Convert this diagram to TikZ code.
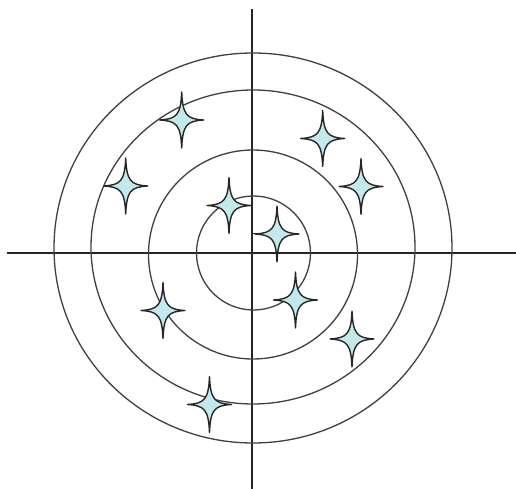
\documentclass[tikz,border=0pt]{standalone}
\begin{document}
\begin{tikzpicture}[x=1pt,y=-1pt,
  axis/.style={draw=black!85,line width=1.4pt},
  ring/.style={draw=black!75,line width=1.3pt},
  star4/.pic={\path[fill=starfill,draw=black!85,line width=1.4pt,line join=round]
     (0,-28) .. controls (1,-5) and (5,-1) .. (22,0)
     .. controls (5,1) and (1,5) .. (0,28)
     .. controls (-1,5) and (-5,1) .. (-22,0)
     .. controls (-5,-1) and (-1,-5) .. cycle;}]
\definecolor{starfill}{RGB}{196,233,237}
\useasboundingbox (0,0) rectangle (516,489);
\fill[white] (0,0) rectangle (516,489);
% axes
\coordinate (L) at (7,253);
\coordinate (R) at (516,253);
\coordinate (T) at (252,9);
\coordinate (B) at (252,489);
\draw[axis] (L) -- (R);
\draw[axis] (T) -- (B);
% rings
\draw[ring] (253,248) ellipse [x radius=199,y radius=195];
\draw[ring] (253,247) ellipse [x radius=162,y radius=157];
\draw[ring] (253,254.5) circle [radius=104.5];
\draw[ring] (253.5,253) circle [radius=57];
% small tick to centre star
\coordinate (tA) at (252,233.3);
\coordinate (tB) at (262,233.3);
\draw[axis,line width=1.2pt] (tA) -- (tB);
% stars
\pic at (181.7,120) {star4};
\pic at (125.7,186) {star4};
\pic at (229,205.5) {star4};
\pic at (277,234) {star4};
\pic at (322.7,138.5) {star4};
\pic at (361,186.5) {star4};
\pic at (163,310.5) {star4};
\pic at (295.5,300) {star4};
\pic at (352,339) {star4};
\pic at (209.5,404.5) {star4};
\end{tikzpicture}
\end{document}
